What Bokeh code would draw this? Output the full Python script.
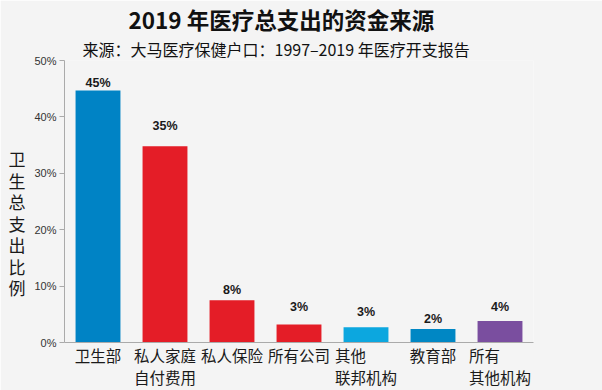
from bokeh.plotting import figure
from bokeh.models import ColumnDataSource, Range1d, FixedTicker, PrintfTickFormatter, Title
from bokeh.core.properties import value
from bokeh.embed import file_html
from bokeh.resources import INLINE

# ---- data ----
categories = ["卫生部", "私人家庭\n自付费用", "私人保险", "所有公司", "其他　　\n联邦机构", "教育部", "所有　　\n其他机构"]
shares = [44.7, 34.8, 7.5, 3.2, 2.7, 2.4, 3.8]
share_labels = ["45%", "35%", "8%", "3%", "3%", "2%", "4%"]
y_ticks = [0, 10, 20, 30, 40, 50]

# ---- style ----
bar_colors = ["#0083C5", "#E41D27", "#E41D27", "#E41D27", "#0CA7DF", "#0087C4", "#7A4E9F"]
label_gap = [7, 20, 10, 17, 15, 10, 14]
BG = "#F4F4F4"
CJK = "Noto Sans CJK SC"

xs = list(range(len(categories)))
src = ColumnDataSource(dict(x=xs, top=shares, color=bar_colors, lab=share_labels,
                            off=[-g for g in label_gap]))

p = figure(width=602, height=390, output_backend="svg", toolbar_location=None, title=None,
           x_range=Range1d(-0.5, len(categories) - 0.5), y_range=Range1d(0, 50),
           min_border_left=64, min_border_right=69, min_border_top=0, min_border_bottom=46)
p.background_fill_color = BG
p.border_fill_color = BG
p.outline_line_color = None
p.grid.grid_line_color = None

p.vbar(x="x", top="top", width=0.67, bottom=0, color="color", line_color=None, source=src)
p.text(x="x", y="top", text="lab", y_offset="off", source=src, text_align="center",
       text_baseline="middle", text_font=value("Liberation Sans"), text_font_style="bold",
       text_font_size="12.5px", text_color="#1a1a1a")

# x axis
p.xaxis.ticker = FixedTicker(ticks=xs)
p.xaxis.major_label_overrides = {i: c for i, c in enumerate(categories)}
p.xaxis.major_tick_line_color = None
p.xaxis.minor_tick_line_color = None
p.xaxis.axis_line_color = "#AAAAAA"
p.xaxis.major_label_text_font = CJK
p.xaxis.major_label_text_font_size = "15.5px"
p.xaxis.major_label_text_color = "#1a1a1a"
p.xaxis.major_label_text_line_height = 1.0
p.xaxis.major_label_standoff = -5

# y axis
p.yaxis.ticker = FixedTicker(ticks=y_ticks)
p.yaxis.formatter = PrintfTickFormatter(format="%d%%")
p.yaxis.minor_tick_line_color = None
p.yaxis.major_tick_in = 0
p.yaxis.major_tick_out = 5
p.yaxis.major_tick_line_color = "#AAAAAA"
p.yaxis.axis_line_color = "#AAAAAA"
p.yaxis.major_label_text_font = "Liberation Sans"
p.yaxis.major_label_text_font_size = "11px"
p.yaxis.major_label_text_color = "#333333"
p.yaxis.major_label_standoff = 3
p.yaxis.axis_label = "\n\n卫\n生\n总\n支\n出\n比\n例"
p.yaxis.axis_label_orientation = "horizontal"
p.yaxis.axis_label_text_font = CJK
p.yaxis.axis_label_text_font_style = "normal"
p.yaxis.axis_label_text_font_size = "17px"
p.yaxis.axis_label_text_line_height = 0.86
p.yaxis.axis_label_text_color = "#1a1a1a"
p.yaxis.axis_label_standoff = 6

# titles (subtitle added first so it sits closest to the plot)
p.add_layout(Title(text="来源：大马医疗保健户口：1997–2019 年医疗开支报告", align="left",
                   offset=18, text_font=CJK, text_font_style="normal", text_font_size="16px",
                   text_color="#111111", standoff=0, text_line_height=0.75), "above")
p.add_layout(Title(text="2019 年医疗总支出的资金来源", align="left", offset=64,
                   text_font=CJK, text_font_style="bold", text_font_size="22.5px",
                   text_color="#111111", standoff=0), "above")

open("out.html", "w").write(file_html(p, INLINE))
